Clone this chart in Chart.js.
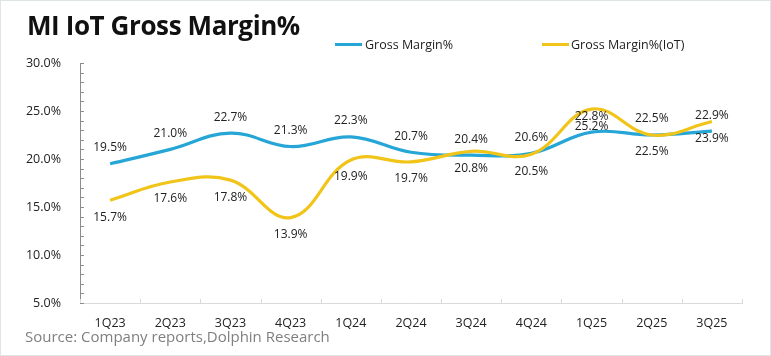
<!DOCTYPE html>
<html><head><meta charset="utf-8">
<script src="https://cdn.jsdelivr.net/npm/chart.js@4/dist/chart.umd.min.js"></script>
<style>
html,body{margin:0;padding:0;background:#fff}
#wrap{position:relative;width:771px;height:356px;overflow:hidden;background:#fff}
#frame{position:absolute;left:0;top:0;width:771px;height:356px;box-sizing:border-box;border:1px solid #dfe5e5;pointer-events:none}
#title{position:absolute;left:27px;top:7px;font:bold 26px "Open Sans",sans-serif;color:#111;white-space:nowrap;letter-spacing:-0.4px}
#source{position:absolute;left:25px;top:326px;font:15px "Open Sans",sans-serif;color:#7f7f7f;white-space:nowrap}
.lg{position:absolute;top:36px;font:12.5px "Open Sans",sans-serif;color:#222;white-space:nowrap}
.sw{position:absolute;width:27px;height:3px;top:43px}
canvas{position:absolute;left:0;top:0}
</style></head>
<body>
<div id="wrap">
<canvas id="c" width="771" height="356"></canvas>
<div id="title">MI IoT Gross Margin%</div>
<div class="sw" style="left:335px;background:#25a6d6"></div>
<div class="lg" style="left:365px">Gross Margin%</div>
<div class="sw" style="left:542px;background:#f0c419"></div>
<div class="lg" style="left:571px">Gross Margin%(IoT)</div>
<div id="source">Source: Company reports,Dolphin Research</div>
<div id="frame"></div>
</div>
<script>
const categories = ["1Q23","2Q23","3Q23","4Q23","1Q24","2Q24","3Q24","4Q24","1Q25","2Q25","3Q25"];
const grossMargin = [19.5,21.0,22.7,21.3,22.3,20.7,20.4,20.6,22.8,22.5,22.9];
const grossMarginIoT = [15.7,17.6,17.8,13.9,19.9,19.7,20.8,20.5,25.2,22.5,23.9];
const yTicks = [5,10,15,20,25,30];

const BLUE = '#25a6d6', GOLD = '#f0c419';

const deco = {
  id:'deco',
  afterDraw(chart){
    const ctx = chart.ctx, x = chart.scales.x, y = chart.scales.y;
    const a = chart.chartArea;
    ctx.save();
    ctx.strokeStyle = '#8c8c8c'; ctx.lineWidth = 1;
    for(let v=yTicks[0]; v<=yTicks[yTicks.length-1]; v++){
      const py = Math.round(y.getPixelForValue(v))+0.5;
      ctx.beginPath(); ctx.moveTo(a.left, py); ctx.lineTo(a.left+4, py); ctx.stroke();
    }
    ctx.strokeStyle = '#d9d9d9';
    for(let i=0;i<=categories.length;i++){
      let px;
      if(i===0) px = a.left; else if(i===categories.length) px = a.right;
      else px = (x.getPixelForValue(i-1)+x.getPixelForValue(i))/2;
      px = Math.round(px)+0.5;
      ctx.beginPath(); ctx.moveTo(px, a.bottom); ctx.lineTo(px, a.bottom-4); ctx.stroke();
    }
    ctx.font = '12px "Open Sans", sans-serif';
    ctx.fillStyle = '#222'; ctx.textAlign='center'; ctx.textBaseline='middle';
    chart.data.datasets.forEach((ds,di)=>{
      const meta = chart.getDatasetMeta(di);
      meta.data.forEach((pt,i)=>{
        const off = ds.labelPos==='above' ? -16 : 17;
        ctx.fillText(ds.data[i].toFixed(1)+'%', pt.x, pt.y+off);
      });
    });
    ctx.restore();
  }
};

new Chart(document.getElementById('c'),{
  type:'line',
  data:{
    labels:categories,
    datasets:[
      {label:'Gross Margin%', data:grossMargin, borderColor:BLUE, borderWidth:3.2, pointRadius:0, tension:0.4, order:1, labelPos:'above'},
      {label:'Gross Margin%(IoT)', data:grossMarginIoT, borderColor:GOLD, borderWidth:3.2, pointRadius:0, tension:0.4, order:0, labelPos:'below'}
    ]
  },
  options:{
    responsive:false, animation:false, devicePixelRatio:1,
    layout:{padding:{left:0,right:29,top:63,bottom:0}},
    plugins:{legend:{display:false}, tooltip:{enabled:false}},
    scales:{
      x:{offset:true, grid:{display:false}, border:{color:'#d9d9d9'},
         ticks:{color:'#222', font:{size:12.5, family:'"Open Sans", sans-serif'}, padding:5, maxRotation:0, autoSkip:false},
         afterFit(s){ s.height = 53; }},
      y:{min:5, max:30, grid:{display:false}, border:{color:'#8c8c8c'},
         afterBuildTicks(s){ s.ticks = yTicks.map(v=>({value:v})); },
         ticks:{color:'#222', font:{size:12.5, family:'"Open Sans", sans-serif'}, padding:11, callback:v=>Number(v).toFixed(1)+'%'},
         afterFit(s){ s.width = 80; }}
    }
  },
  plugins:[deco]
});
</script>
</body></html>
